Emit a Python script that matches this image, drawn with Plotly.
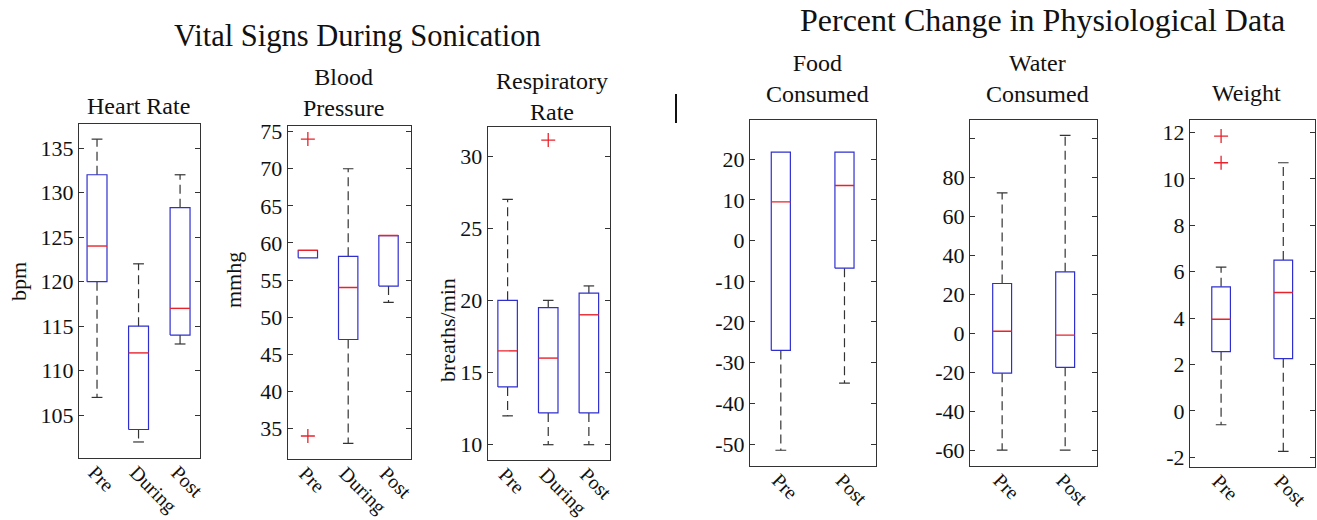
import plotly.graph_objects as go

# ---------------- data ----------------
vital_cats = ["Pre", "During", "Post"]
phys_cats = ["Pre", "Post"]

# Heart Rate (bpm)
hr_lower = [107, 102, 113]
hr_q1 = [120, 103.4, 114]
hr_median = [124, 112, 117]
hr_q3 = [132, 115, 128.3]
hr_upper = [136, 122, 132]
hr_outliers = [[], [], []]

# Blood Pressure (mmhg)
bp_lower = [58, 33, 52]
bp_q1 = [58, 47, 54.2]
bp_median = [59, 54, 61]
bp_q3 = [59, 58.2, 61]
bp_upper = [59, 70, 61]
bp_outliers = [[74, 34], [], []]

# Respiratory Rate (breaths/min)
rr_lower = [12, 10, 10]
rr_q1 = [14, 12.2, 12.2]
rr_median = [16.5, 16, 19]
rr_q3 = [20, 19.5, 20.5]
rr_upper = [27, 20, 21]
rr_outliers = [[], [31.1], []]

# Food Consumed (% change)
food_lower = [-51.5, -35]
food_q1 = [-27, -6.8]
food_median = [9.5, 13.5]
food_q3 = [21.7, 21.7]
food_upper = [21.7, 21.7]
food_outliers = [[], []]

# Water Consumed (% change)
water_lower = [-60, -60]
water_q1 = [-20.5, -17.5]
water_median = [1, -1]
water_q3 = [25.5, 31.5]
water_upper = [72, 101.5]
water_outliers = [[], []]

# Weight (% change)
wt_lower = [-0.6, -1.75]
wt_q1 = [2.55, 2.25]
wt_median = [3.95, 5.1]
wt_q3 = [5.35, 6.5]
wt_upper = [6.2, 10.7]
wt_outliers = [[11.85, 10.7], []]

hr_ticks = [105, 110, 115, 120, 125, 130, 135]
bp_ticks = [35, 40, 45, 50, 55, 60, 65, 70, 75]
rr_ticks = [10, 15, 20, 25, 30]
food_ticks = [-50, -40, -30, -20, -10, 0, 10, 20]
water_ticks = [-60, -40, -20, 0, 20, 40, 60, 80, 100]
water_ticklabels = ["-60", "-40", "-20", "0", "20", "40", "60", "80", ""]
wt_ticks = [-2, 0, 2, 4, 6, 8, 10, 12]

# ---------------- layout helpers ----------------
W, H = 1317, 520
FONT = "Liberation Serif"
BLUE = "#2f2fd0"
RED = "#e8232b"
DARK = "#333333"
TXT = "#111111"
YTICK_SIZE = 22
XTICK_SIZE = 20


def px(x):
    return x / W


def py(y):
    return 1 - y / H


panels = [
    dict(cats=vital_cats, lo=hr_lower, q1=hr_q1, med=hr_median, q3=hr_q3, up=hr_upper, out=hr_outliers,
         ticks=hr_ticks, labels=None, xd=(79, 200), yd=(124, 458), xr=(-0.434, 2.48), yr=(100.2, 137.7),
         bw=0.48, cw=0.26),
    dict(cats=vital_cats, lo=bp_lower, q1=bp_q1, med=bp_median, q3=bp_q3, up=bp_upper, out=bp_outliers,
         ticks=bp_ticks, labels=None, xd=(287.7, 410.7), yd=(125.7, 459), xr=(-0.5, 2.55), yr=(30.9, 75.8),
         bw=0.48, cw=0.26),
    dict(cats=vital_cats, lo=rr_lower, q1=rr_q1, med=rr_median, q3=rr_q3, up=rr_upper, out=rr_outliers,
         ticks=rr_ticks, labels=None, xd=(487.7, 610), yd=(126.7, 460), xr=(-0.49, 2.52), yr=(8.94, 32.03),
         bw=0.48, cw=0.26),
    dict(cats=phys_cats, lo=food_lower, q1=food_q1, med=food_median, q3=food_q3, up=food_upper, out=food_outliers,
         ticks=food_ticks, labels=None, xd=(750, 876), yd=(120, 465.7), xr=(-0.484, 1.495), yr=(-55.3, 29.6),
         bw=0.3, cw=0.17),
    dict(cats=phys_cats, lo=water_lower, q1=water_q1, med=water_median, q3=water_q3, up=water_upper,
         out=water_outliers, ticks=water_ticks, labels=water_ticklabels, xd=(970, 1097.3), yd=(120, 465.7),
         xr=(-0.51, 1.51), yr=(-68, 109.4), bw=0.3, cw=0.17),
    dict(cats=phys_cats, lo=wt_lower, q1=wt_q1, med=wt_median, q3=wt_q3, up=wt_upper, out=wt_outliers,
         ticks=wt_ticks, labels=None, xd=(1190, 1315), yd=(120.3, 466.7), xr=(-0.5, 1.51), yr=(-2.41, 12.53),
         bw=0.3, cw=0.17),
]

fig = go.Figure()
layout = dict(
    template="none",
    width=W, height=H, autosize=False,
    margin=dict(l=0, r=0, t=0, b=0, pad=0, autoexpand=False),
    paper_bgcolor="white", plot_bgcolor="white",
    showlegend=False,
    font=dict(family=FONT, color=TXT),
)

for k, p in enumerate(panels, start=1):
    xa = "x" if k == 1 else f"x{k}"
    ya = "y" if k == 1 else f"y{k}"
    n = len(p["cats"])
    wx, wy = [], []
    cx, cy = [], []
    bx, by = [], []
    mx, my = [], []
    ox, oy = [], []
    for i in range(n):
        if p["up"][i] > p["q3"][i]:
            wx += [i, i, None]
            wy += [p["q3"][i], p["up"][i], None]
            cx += [i - p["cw"] / 2, i + p["cw"] / 2, None]
            cy += [p["up"][i], p["up"][i], None]
        if p["lo"][i] < p["q1"][i]:
            wx += [i, i, None]
            wy += [p["q1"][i], p["lo"][i], None]
            cx += [i - p["cw"] / 2, i + p["cw"] / 2, None]
            cy += [p["lo"][i], p["lo"][i], None]
        h = p["bw"] / 2
        bx += [i - h, i + h, i + h, i - h, i - h, None]
        by += [p["q1"][i], p["q1"][i], p["q3"][i], p["q3"][i], p["q1"][i], None]
        mx += [i - h, i + h, None]
        my += [p["med"][i], p["med"][i], None]
        for v in p["out"][i]:
            ox.append(i)
            oy.append(v)
    fig.add_trace(go.Scatter(x=wx, y=wy, mode="lines", xaxis=xa, yaxis=ya,
                             line=dict(color=DARK, width=1.2, dash="9px,5px"), hoverinfo="skip"))
    fig.add_trace(go.Scatter(x=cx, y=cy, mode="lines", xaxis=xa, yaxis=ya,
                             line=dict(color=DARK, width=1.2), hoverinfo="skip"))
    fig.add_trace(go.Scatter(x=bx, y=by, mode="lines", xaxis=xa, yaxis=ya,
                             line=dict(color=BLUE, width=1.2), hoverinfo="skip"))
    fig.add_trace(go.Scatter(x=mx, y=my, mode="lines", xaxis=xa, yaxis=ya,
                             line=dict(color=RED, width=1.4), hoverinfo="skip"))
    if ox:
        fig.add_trace(go.Scatter(x=ox, y=oy, mode="markers", xaxis=xa, yaxis=ya,
                                 marker=dict(symbol="cross-thin", size=10,
                                             line=dict(color=RED, width=1.3)),
                                 hoverinfo="skip"))
    labels = p["labels"] if p["labels"] is not None else [str(t) for t in p["ticks"]]
    xkey = "xaxis" if k == 1 else f"xaxis{k}"
    ykey = "yaxis" if k == 1 else f"yaxis{k}"
    layout[xkey] = dict(
        domain=[px(p["xd"][0]), px(p["xd"][1])], anchor=ya, range=list(p["xr"]),
        tickmode="array", tickvals=list(range(n)), ticktext=p["cats"], tickangle=45,
        ticks="", showline=True, mirror=True, linecolor=DARK, linewidth=1,
        showgrid=False, zeroline=False, tickfont=dict(family=FONT, size=XTICK_SIZE, color=TXT),
        ticklabeloverflow="allow", ticklabelstandoff=-6, ticklabelshift=-3,
        fixedrange=True, automargin=False,
    )
    layout[ykey] = dict(
        domain=[py(p["yd"][1]), py(p["yd"][0])], anchor=xa, range=list(p["yr"]),
        tickmode="array", tickvals=p["ticks"], ticktext=labels,
        ticks="inside", ticklen=5, tickcolor=DARK, tickwidth=1,
        showline=True, mirror="ticks", linecolor=DARK, linewidth=1,
        showgrid=False, zeroline=False, tickfont=dict(family=FONT, size=YTICK_SIZE, color=TXT),
        ticklabeloverflow="allow",
        fixedrange=True, automargin=False,
    )

annotations = []


def ann(text, x, y, size, angle=0):
    annotations.append(dict(text=text, x=px(x), y=py(y), xref="paper", yref="paper",
                            xanchor="center", yanchor="middle", showarrow=False,
                            textangle=angle, font=dict(family=FONT, size=size, color=TXT)))


ann("Vital Signs During Sonication", 357, 36, 30.5)
ann("Percent Change in Physiological Data", 1042, 20, 32)
ann("Heart Rate", 138, 106, 24)
ann("Blood<br>Pressure", 343, 92, 24)
ann("Respiratory<br>Rate", 552, 96, 24)
ann("Food<br>Consumed", 817, 78, 24)
ann("Water<br>Consumed", 1037, 78, 24)
ann("Weight", 1246, 93, 24)
ann("bpm", 18, 282, 22, -90)
ann("mmhg", 233, 280, 22, -90)
ann("breaths/min", 447, 330, 22, -90)

layout["annotations"] = annotations
layout["shapes"] = [dict(type="line", xref="paper", yref="paper",
                         x0=px(676), x1=px(676), y0=py(94), y1=py(123),
                         line=dict(color=TXT, width=2))]

fig.update_layout(**layout)
fig.write_html("out.html",
               config={"displayModeBar": False, "staticPlot": True},
               post_script="document.body.style.margin='0';document.body.style.overflow='hidden';")
